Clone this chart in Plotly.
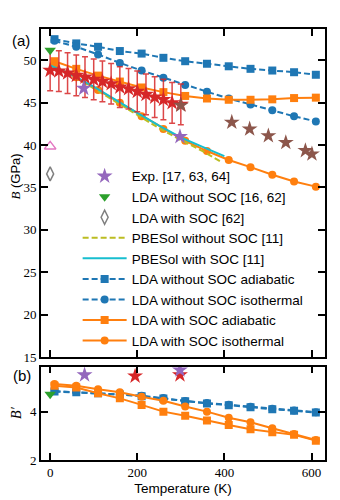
import plotly.graph_objects as go

# temperatures of the computed curves (K)
T_CALC = [10, 60, 110, 160, 210, 260, 310, 360, 410, 460, 510, 560, 610]

# bulk modulus B (GPa)
B_NOSOC_ADI = [52.5, 52.0, 51.6, 51.1, 50.8, 50.3, 49.9, 49.6, 49.3, 49.0, 48.8, 48.6, 48.3]
B_NOSOC_ISO = [52.3, 51.6, 50.7, 49.7, 48.8, 47.95, 47.1, 46.3, 45.5, 44.8, 44.1, 43.4, 42.8]
B_SOC_ADI = [49.9, 49.0, 48.2, 47.5, 46.8, 46.25, 45.8, 45.5, 45.35, 45.35, 45.4, 45.55, 45.6]
B_SOC_ISO = [49.3, 48.0, 46.5, 45.0, 43.4, 41.9, 40.5, 39.3, 38.25, 37.4, 36.5, 35.7, 35.1]

# pressure derivative B'
BP_NOSOC_ADI = [4.83, 4.80, 4.76, 4.71, 4.64, 4.54, 4.43, 4.34, 4.27, 4.18, 4.10, 4.04, 3.96]
BP_NOSOC_ISO = [4.85, 4.81, 4.77, 4.72, 4.66, 4.56, 4.44, 4.36, 4.29, 4.20, 4.12, 4.05, 3.98]
BP_SOC_ADI = [5.07, 5.00, 4.76, 4.55, 4.28, 4.00, 3.83, 3.63, 3.45, 3.27, 3.15, 3.04, 2.80]
BP_SOC_ISO = [5.14, 5.07, 4.93, 4.80, 4.62, 4.45, 4.21, 4.00, 3.75, 3.56, 3.31, 3.08, 2.83]

# PBEsol [11]
T_PBE_SOC = [0, 50, 100, 150, 200, 250, 300, 350, 400]
B_PBE_SOC = [49.4, 48.3, 46.9, 45.3, 43.8, 42.3, 40.9, 39.8, 38.7]
T_PBE = [0, 50, 100, 150, 200, 250, 300, 350, 390]
B_PBE = [49.4, 48.2, 46.7, 45.1, 43.5, 42.0, 40.6, 39.3, 38.1]

# experiments [17, 63, 64]
T_EXP_RED = [0, 20, 40, 60, 80, 100, 120, 140, 160, 180, 200, 220, 240, 260, 280, 300]
B_EXP_RED = [48.82, 48.74, 48.5, 48.22, 48.02, 47.75, 47.51, 47.24, 46.84, 46.65,
             46.33, 45.98, 45.66, 45.38, 44.99, 44.8]
ERR_EXP_RED = [2.4] * len(T_EXP_RED)
T_EXP_PURPLE = [77, 298]
B_EXP_PURPLE = [46.7, 41.0]
T_EXP_BROWN = [300, 417, 458, 501, 541, 586, 601]
B_EXP_BROWN = [44.7, 42.7, 41.9, 41.1, 40.3, 39.35, 38.95]
T_BP_PURPLE = [79, 298]
BP_PURPLE = [5.52, 5.72]
T_BP_RED = [195, 298]
BP_RED = [5.47, 5.52]

# LDA literature at 0 K
B_LDA_GREEN = [51.2]
BP_LDA_GREEN = [4.72]
B_LDA_PINK = [39.85]
B_LDA_SOC_GRAY = [36.6]

BLUE, ORANGE, GREEN, RED = "#1f77b4", "#ff7f0e", "#2ca02c", "#d62728"
PURPLE, BROWN, PINK, GRAY = "#9467bd", "#8c564b", "#e377c2", "#7f7f7f"
OLIVE, CYAN = "#bcbd22", "#17becf"
SANS = "Liberation Sans, Arial, sans-serif"
SERIF = "Liberation Serif, DejaVu Serif, serif"
STAR = 12

fig = go.Figure()


def calc(x, y, color, symbol, dash, name, rank, yaxis, legend):
    fig.add_trace(go.Scatter(
        x=x, y=y, mode="lines+markers", name=name, legendrank=rank,
        showlegend=legend, xaxis="x" if yaxis == "y" else "x2", yaxis=yaxis,
        line=dict(color=color, width=2, dash=dash),
        marker=dict(color=color, symbol=symbol, size=8),
    ))


# top panel
calc(T_CALC, B_NOSOC_ADI, BLUE, "square", "6px,3px", "LDA without SOC adiabatic", 6, "y", True)
calc(T_CALC, B_NOSOC_ISO, BLUE, "circle", "6px,3px", "LDA without SOC isothermal", 7, "y", True)
calc(T_CALC, B_SOC_ADI, ORANGE, "square", "solid", "LDA with SOC adiabatic", 8, "y", True)
calc(T_CALC, B_SOC_ISO, ORANGE, "circle", "solid", "LDA with SOC isothermal", 9, "y", True)
fig.add_trace(go.Scatter(x=T_PBE, y=B_PBE, mode="lines", name="PBESol without SOC [11]",
                         legendrank=4, line=dict(color=OLIVE, width=2, dash="6px,3px")))
fig.add_trace(go.Scatter(x=T_PBE_SOC, y=B_PBE_SOC, mode="lines", name="PBESol with SOC [11]",
                         legendrank=5, line=dict(color=CYAN, width=2)))
fig.add_trace(go.Scatter(
    x=T_EXP_RED, y=B_EXP_RED, mode="markers", showlegend=False,
    marker=dict(color=RED, symbol="star", size=STAR),
    error_y=dict(type="data", array=ERR_EXP_RED, color="rgba(214,39,40,0.85)",
                 thickness=1.5, width=3),
))
fig.add_trace(go.Scatter(x=T_EXP_PURPLE, y=B_EXP_PURPLE, mode="markers",
                         name="Exp. [17, 63, 64]", legendrank=1,
                         marker=dict(color=PURPLE, symbol="star", size=STAR)))
fig.add_trace(go.Scatter(x=T_EXP_BROWN, y=B_EXP_BROWN, mode="markers", showlegend=False,
                         marker=dict(color=BROWN, symbol="star", size=STAR)))
fig.add_trace(go.Scatter(x=[0], y=B_LDA_GREEN, mode="markers", name="LDA without SOC [16, 62]",
                         legendrank=2, marker=dict(color=GREEN, symbol="triangle-down", size=10)))
fig.add_trace(go.Scatter(x=[0], y=B_LDA_PINK, mode="markers", showlegend=False,
                         marker=dict(color=PINK, symbol="triangle-up-open", size=10,
                                     line=dict(width=1.5))))
fig.add_trace(go.Scatter(x=[0], y=B_LDA_SOC_GRAY, mode="markers", name="LDA with SOC [62]",
                         legendrank=3,
                         marker=dict(color=GRAY, symbol="diamond-tall-open", size=10,
                                     line=dict(width=1.5))))

# bottom panel
calc(T_CALC, BP_NOSOC_ADI, BLUE, "square", "6px,3px", "", 0, "y2", False)
calc(T_CALC, BP_NOSOC_ISO, BLUE, "circle", "6px,3px", "", 0, "y2", False)
calc(T_CALC, BP_SOC_ADI, ORANGE, "square", "solid", "", 0, "y2", False)
calc(T_CALC, BP_SOC_ISO, ORANGE, "circle", "solid", "", 0, "y2", False)
for x, y, color, symbol in [
    (T_BP_RED, BP_RED, RED, "star"),
    (T_BP_PURPLE, BP_PURPLE, PURPLE, "star"),
    ([0], BP_LDA_GREEN, GREEN, "triangle-down"),
]:
    fig.add_trace(go.Scatter(x=x, y=y, mode="markers", showlegend=False, xaxis="x2", yaxis="y2",
                             marker=dict(color=color, symbol=symbol,
                                         size=STAR if symbol == "star" else 10)))

axis_style = dict(
    showline=True, linecolor="black", linewidth=1.6, mirror="ticks",
    ticks="inside", ticklen=7, tickwidth=1.5, tickcolor="black",
    showgrid=False, zeroline=False, automargin=False,
    tickfont=dict(family=SERIF, size=13, color="black"),
)


def note(text, x, y, size=15, angle=0, family=SANS):
    return dict(text=text, x=x, y=y, xref="paper", yref="paper", showarrow=False,
                xanchor="center", yanchor="middle", textangle=angle,
                font=dict(family=family, size=size))


# the page body has an 8px margin, so the figure is 8px smaller than the window
fig.update_layout(
    width=332, height=492,
    margin=dict(l=33, r=15, t=21, b=40),
    paper_bgcolor="white", plot_bgcolor="white",
    font=dict(family=SANS, size=13, color="black"),
    xaxis=dict(axis_style, domain=[0, 1], range=[-21, 631], tickvals=[0, 200, 400, 600],
               showticklabels=False, anchor="y"),
    yaxis=dict(axis_style, domain=[0.239, 1], range=[15, 53.7],
               tickvals=[15, 20, 25, 30, 35, 40, 45, 50], anchor="x"),
    xaxis2=dict(axis_style, domain=[0, 1], range=[-21, 631], tickvals=[0, 200, 400, 600],
                anchor="y2", matches="x",
                title=dict(text="Temperature (K)", font=dict(family=SANS, size=13.5), standoff=4)),
    yaxis2=dict(axis_style, domain=[0, 0.2165], range=[2, 5.86], tickvals=[2, 4, 6], anchor="x2"),
    legend=dict(x=0.129, y=0.694, xanchor="left", yanchor="top", bgcolor="rgba(0,0,0,0)",
                font=dict(family=SANS, size=13.5), itemwidth=44, traceorder="normal"),
    annotations=[
        note("(a)", -0.07, 0.974),
        note("(b)", -0.068, 0.197),
        note("<span style='font-family:Liberation Serif;font-style:italic'>B</span> (GPa)",
             -0.089, 0.657, size=13, angle=-90),
        note("<span style='font-style:italic'>B′</span>", -0.089, 0.111, size=14,
             angle=-90, family=SERIF),
    ],
)

fig.write_html("out.html")
